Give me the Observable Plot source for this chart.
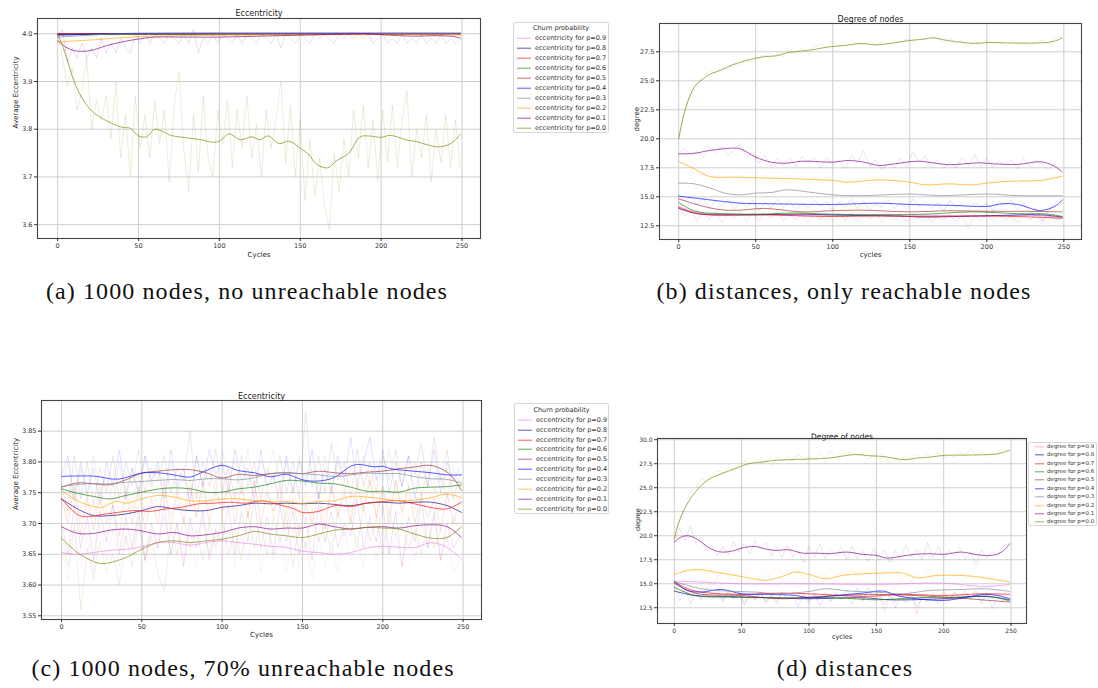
<!DOCTYPE html>
<html><head><meta charset="utf-8">
<script src="https://cdn.jsdelivr.net/npm/d3@7"></script>
<script src="https://cdn.jsdelivr.net/npm/@observablehq/plot@0.6"></script>
<style>
body{margin:0;background:#fff;}
#root{position:relative;width:1098px;height:688px;overflow:hidden;background:#fff;font-family:"DejaVu Sans",sans-serif;}
.panel{position:absolute;}
.legend{position:absolute;border:1px solid #d8d8d8;border-radius:2px;background:#fff;color:#333;box-sizing:border-box;}
.legend .row{position:absolute;left:0;white-space:nowrap;line-height:1;}
.cap{position:absolute;font-family:"Liberation Serif",serif;font-size:24px;color:#111;text-align:center;white-space:nowrap;line-height:26px;letter-spacing:1.1px;}
</style></head><body><div id="root"></div><script>
// ---------- shared categories ----------
const probs = ["0.9","0.8","0.7","0.6","0.5","0.4","0.3","0.2","0.1","0.0"];
const colors = ["violet","darkblue","red","green","brown","blue","lightslategray","orange","purple","olive"];
const xTicks = [0,50,100,150,200,250];
const aYTicks = [3.6,3.7,3.8,3.9,4.0];
const bYTicks = [12.5,15.0,17.5,20.0,22.5,25.0,27.5];
const cYTicks = [3.55,3.60,3.65,3.70,3.75,3.80,3.85];
const dYTicks = [12.5,15.0,17.5,20.0,22.5,25.0,27.5,30.0];

// ---------- (a) smoothed series [cycle, value] ----------
const a_p00 = [[0,4.0],[3,3.975],[6,3.945],[10,3.902],[16,3.860],[22,3.836],[30,3.818],[40,3.804],[45,3.802],[50,3.786],[55,3.784],[60,3.800],[65,3.795],[70,3.787],[80,3.782],[90,3.777],[95,3.773],[100,3.775],[106,3.790],[113,3.778],[120,3.784],[125,3.778],[130,3.786],[137,3.770],[143,3.775],[150,3.760],[155,3.748],[160,3.727],[167,3.719],[172,3.733],[180,3.750],[187,3.784],[192,3.786],[200,3.783],[205,3.787],[210,3.784],[216,3.777],[222,3.774],[230,3.766],[236,3.763],[243,3.770],[249,3.789]];
const a_p01 = [[0,3.986],[5,3.972],[10,3.965],[15,3.963],[22,3.966],[30,3.975],[40,3.983],[50,3.989],[60,3.993],[78,3.993],[100,3.993],[125,3.995],[150,3.997],[175,3.999],[190,4.0],[205,3.997],[220,3.995],[235,3.996],[245,3.994],[249,3.991]];
const a_p02 = [[0,3.983],[25,3.988],[50,3.994],[75,3.996],[100,3.997],[150,3.998],[200,3.999],[249,3.999]];
const a_p03 = [[0,3.993],[15,3.996],[30,3.999],[60,4.0],[249,4.0]];
const a_p04 = [[0,3.997],[20,3.999],[50,4.001],[249,4.001]];
const a_p05 = [[0,3.999],[30,4.0],[249,3.998]];
const a_p06 = [[0,3.998],[249,4.0]];
const a_p07 = [[0,4.0],[249,4.0]];
const a_p08 = [[0,4.0],[249,4.001]];
const a_p09 = [[0,3.999],[249,4.0]];
// (a) raw series, one value every 3 cycles
const aRaw_p00 = [4.00,3.95,3.89,3.93,3.84,3.88,3.95,3.80,3.86,3.82,3.87,3.78,
3.90,3.74,3.83,3.70,3.87,3.76,3.83,3.74,3.86,3.77,3.84,3.69,
3.85,3.92,3.76,3.67,3.83,3.71,3.87,3.74,3.70,3.84,3.77,3.86,
3.72,3.84,3.76,3.87,3.74,3.81,3.70,3.84,3.76,3.82,3.90,3.73,
3.85,3.70,3.82,3.65,3.78,3.66,3.74,3.64,3.59,3.75,3.67,3.78,
3.70,3.84,3.74,3.85,3.72,3.82,3.69,3.84,3.73,3.85,3.72,3.82,
3.88,3.70,3.80,3.74,3.83,3.69,3.80,3.73,3.83,3.72,3.82,3.72];
const aRaw_p01 = [3.99,4.01,3.94,3.97,3.95,3.98,3.95,3.97,3.95,3.99,3.96,3.98,
3.96,3.99,3.97,3.96,4.00,3.98,4.00,3.98,4.00,3.99,3.98,4.00,
3.99,3.98,4.00,3.98,4.01,3.96,3.99,3.98,4.00,3.98,4.00,3.99,
3.98,4.00,3.98,4.00,3.99,3.98,4.00,3.99,3.98,4.00,3.97,4.00,
3.99,3.98,4.00,3.99,3.98,4.00,3.99,4.00,3.99,3.98,4.00,3.99,
4.00,3.99,4.00,3.99,4.00,3.98,3.99,4.00,3.98,3.99,3.98,4.00,
3.98,3.99,3.98,4.00,3.98,3.99,3.98,4.00,3.98,3.99,3.98,3.99];

// ---------- (b) smoothed ----------
const b_p00 = [[0,20.0],[3,21.87],[7,23.6],[11,24.6],[16,25.17],[20,25.55],[27,25.9],[35,26.38],[44,26.75],[50,26.95],[57,27.1],[64,27.16],[70,27.41],[79,27.56],[88,27.7],[96,27.9],[103,27.99],[111,28.1],[118,28.22],[129,28.1],[140,28.28],[150,28.48],[157,28.56],[166,28.7],[172,28.53],[183,28.33],[192,28.22],[200,28.3],[209,28.28],[218,28.25],[227,28.25],[237,28.28],[244,28.42],[249,28.7]];
const b_p01 = [[0,18.7],[10,18.75],[20,18.99],[35,19.2],[40,19.14],[50,18.42],[60,17.99],[70,17.9],[80,18.07],[100,17.99],[110,18.13],[120,17.99],[130,17.7],[140,17.84],[155,18.07],[165,17.93],[175,17.76],[185,17.84],[195,17.93],[205,17.84],[220,17.79],[235,18.02],[243,17.7],[249,17.13]];
const b_p02 = [[0,18.07],[10,17.41],[20,16.75],[35,16.7],[50,16.64],[75,16.55],[100,16.41],[110,16.26],[130,16.47],[150,16.26],[160,16.03],[175,16.12],[190,16.03],[200,16.18],[215,16.35],[235,16.41],[249,16.78]];
const b_p03 = [[0,16.18],[10,16.12],[20,15.78],[30,15.32],[40,15.17],[50,15.32],[60,15.37],[70,15.6],[85,15.4],[100,15.17],[120,15.1],[150,15.24],[170,15.1],[200,15.24],[220,15.1],[249,15.1]];
const b_p04 = [[0,15.06],[20,14.74],[40,14.45],[60,14.4],[100,14.34],[130,14.45],[150,14.34],[180,14.25],[200,14.17],[210,14.4],[220,14.34],[235,13.82],[245,14.25],[249,14.74]];
const b_p05 = [[0,14.83],[10,14.4],[20,14.05],[30,13.85],[40,13.85],[55,14.0],[65,13.9],[80,13.7],[100,13.8],[120,13.85],[150,13.7],[175,13.8],[200,13.75],[225,13.75],[249,13.7]];
const b_p06 = [[0,14.5],[8,13.9],[15,13.65],[30,13.55],[50,13.5],[75,13.6],[100,13.5],[130,13.45],[160,13.5],[190,13.7],[220,13.55],[240,13.5],[249,13.3]];
const b_p07 = [[0,14.1],[8,13.7],[15,13.5],[40,13.45],[60,13.45],[80,13.35],[100,13.3],[130,13.35],[160,13.3],[190,13.35],[220,13.3],[249,13.15]];
const b_p08 = [[0,14.0],[10,13.6],[20,13.45],[50,13.45],[80,13.5],[110,13.4],[140,13.35],[160,13.25],[180,13.3],[210,13.4],[235,13.45],[249,13.25]];
const b_p09 = [[0,14.2],[10,13.7],[25,13.5],[50,13.45],[80,13.4],[120,13.45],[160,13.4],[200,13.35],[230,13.4],[249,13.2]];
// (b) raw, one value every 4 cycles
const bRaw_p00 = [20.0,22.6,24.0,24.9,25.4,25.8,25.7,26.1,26.0, 26.5,26.3,26.9,26.6,27.0,27.2,26.9,27.3,27.0, 27.6,27.3,27.8,27.4,27.9,28.2,27.8,28.3,27.9, 28.4,28.0,28.3,28.1,28.5,28.0,28.4,28.2,28.5, 28.3,28.6,28.4,28.8,28.5,28.9,28.6,28.3,28.7, 28.2,28.5,27.9,28.4,28.1,28.5,28.2,28.4,28.0, 28.5,28.2,28.4,28.1,28.3,28.5,28.2,28.6,28.8];
const bRaw_p01 = [18.7,19.2,18.5,19.0,18.4,19.3,18.8,19.4,18.6, 19.0,19.6,18.4,18.9,17.9,18.6,17.6,18.3,17.7, 18.4,17.6,18.5,17.9,18.4,17.5,18.3,17.8,18.2, 17.4,18.6,17.9,19.0,17.6,18.2,17.3,18.0,17.5, 18.3,17.6,18.9,18.0,18.5,17.6,18.2,17.4,18.0, 17.5,18.4,17.7,18.6,17.6,18.3,17.5,18.1,17.7, 18.2,17.4,18.3,17.6,18.2,17.8,17.3,17.9,17.3];
const bRaw_p02 = [18.1,17.5,17.2,16.9,17.1,16.5,16.9,16.4,17.0, 16.5,16.9,16.3,16.8,16.4,17.0,16.5,16.8,16.2, 16.9,16.5,16.7,16.2,16.8,16.3,16.6,16.1,16.5, 16.0,16.6,16.2,16.7,16.1,16.6,16.3,16.5,16.0, 16.4,15.9,16.3,15.8,16.4,16.0,16.3,15.9,16.4, 15.8,16.2,16.0,16.4,15.9,16.5,16.1,16.4,16.2, 16.6,16.1,16.5,16.2,16.6,16.3,16.7,16.4,16.8];
const bRaw_p04 = [15.2,14.6,15.0,14.3,14.9,14.0,14.7,14.2,14.8, 13.9,14.6,14.1,14.7,13.8,14.5,14.0,14.8,14.1, 14.6,13.9,14.5,14.0,14.7,14.2,14.6,13.8,14.5, 14.1,14.8,14.0,14.6,13.9,14.4,14.1,14.7,14.0, 14.5,13.9,14.8,14.2,14.6,14.0,14.5,13.8,14.7, 14.1,14.4,13.9,14.5,14.2,14.4,13.8,14.6,14.3, 14.7,13.9,14.5,13.6,14.0,12.9,13.8,14.4,14.9];
const bRaw_p07 = [14.1,13.3,13.7,12.9,13.6,13.1,13.7,12.8,13.5, 13.2,13.8,12.9,13.6,13.0,13.5,13.2,13.7,12.9, 13.4,13.0,13.6,12.8,13.5,13.1,13.4,12.9,13.5, 13.0,13.6,12.9,13.4,13.1,13.5,12.8,13.4,13.0, 13.5,12.9,13.4,13.1,13.6,12.8,13.3,13.0,13.5, 12.9,13.4,12.3,13.3,13.0,13.5,12.9,13.4,13.1, 13.3,12.8,13.4,13.0,13.5,12.9,13.3,13.0,13.1];
const bRaw_p09 = [14.2,13.4,13.9,13.1,13.7,13.0,13.8,13.2,13.6, 13.0,13.8,13.3,13.5,12.9,13.7,13.2,13.9,13.1, 13.6,13.0,13.5,13.2,13.8,13.0,13.6,13.3,13.7, 12.9,13.6,13.1,13.8,13.2,13.5,13.0,13.7,13.3, 13.6,12.8,13.5,13.2,13.8,13.1,13.6,13.0,13.5, 12.7,13.7,13.2,13.6,12.9,13.5,13.1,13.4,12.9, 13.6,13.1,13.5,13.0,13.4,12.6,13.5,13.1,13.3];

// ---------- (c) smoothed ----------
const c_p04 = [[0,3.7766],[20,3.777],[35,3.772],[50,3.782],[60,3.7825],[70,3.779],[80,3.7755],[90,3.786],[100,3.7945],[110,3.786],[120,3.7825],[130,3.776],[140,3.78],[150,3.771],[160,3.769],[170,3.775],[180,3.793],[185,3.796],[195,3.792],[200,3.793],[205,3.789],[215,3.786],[230,3.7825],[240,3.779],[249,3.779]];
const c_p05 = [[0,3.759],[10,3.766],[20,3.7645],[30,3.763],[40,3.771],[50,3.782],[60,3.785],[70,3.7875],[80,3.7875],[90,3.7825],[100,3.774],[110,3.78],[120,3.778],[130,3.781],[140,3.7825],[150,3.781],[160,3.785],[170,3.7825],[180,3.781],[190,3.7835],[200,3.785],[210,3.789],[220,3.792],[230,3.7945],[240,3.7835],[245,3.77],[249,3.7536]];
const c_p03 = [[0,3.76],[15,3.7645],[30,3.7645],[40,3.767],[50,3.7684],[60,3.77],[70,3.7716],[80,3.77],[90,3.7727],[100,3.7727],[110,3.771],[120,3.7744],[130,3.781],[140,3.7825],[150,3.781],[160,3.779],[170,3.7765],[180,3.779],[190,3.782],[200,3.781],[210,3.781],[220,3.776],[230,3.7727],[240,3.7716],[249,3.7656]];
const c_p06 = [[0,3.7564],[10,3.749],[20,3.744],[30,3.74],[40,3.7455],[50,3.751],[60,3.756],[70,3.758],[80,3.7564],[90,3.751],[100,3.751],[110,3.7564],[120,3.759],[130,3.7645],[140,3.77],[150,3.769],[160,3.7656],[170,3.7645],[180,3.759],[190,3.7525],[200,3.7525],[210,3.751],[220,3.7575],[230,3.759],[240,3.76],[249,3.7627]];
const c_p02 = [[0,3.7536],[10,3.737],[20,3.7275],[25,3.7264],[30,3.732],[35,3.736],[40,3.733],[50,3.74],[60,3.7455],[70,3.743],[80,3.737],[90,3.737],[100,3.74],[110,3.74],[120,3.737],[130,3.7346],[140,3.7357],[150,3.733],[160,3.736],[170,3.737],[180,3.744],[190,3.743],[200,3.74],[210,3.737],[220,3.738],[230,3.742],[240,3.748],[249,3.742]];
const c_p07 = [[0,3.74],[10,3.7144],[15,3.711],[25,3.7144],[35,3.718],[45,3.721],[55,3.7197],[65,3.7237],[75,3.7264],[85,3.732],[95,3.733],[105,3.7346],[115,3.733],[125,3.737],[135,3.7308],[145,3.7237],[150,3.718],[160,3.7197],[170,3.729],[180,3.7275],[190,3.733],[200,3.7357],[210,3.737],[220,3.7318],[230,3.726],[240,3.7237],[249,3.7346]];
const c_p08 = [[0,3.74],[10,3.7237],[20,3.7128],[30,3.7128],[40,3.7155],[50,3.721],[60,3.7275],[70,3.7237],[80,3.721],[90,3.721],[100,3.7264],[110,3.729],[120,3.733],[130,3.732],[140,3.733],[150,3.732],[160,3.733],[170,3.731],[180,3.729],[190,3.733],[200,3.7346],[210,3.733],[220,3.7346],[230,3.7346],[240,3.729],[249,3.718]];
const c_p01 = [[0,3.6948],[10,3.684],[20,3.684],[30,3.689],[40,3.691],[50,3.688],[60,3.683],[70,3.6855],[80,3.68],[90,3.6817],[100,3.6855],[110,3.6926],[120,3.6948],[130,3.691],[140,3.6926],[150,3.6926],[160,3.699],[170,3.6948],[180,3.691],[190,3.6937],[200,3.6948],[210,3.6926],[220,3.6964],[230,3.698],[240,3.6948],[249,3.6773]];
const c_p00 = [[0,3.6762],[10,3.6528],[20,3.638],[25,3.6348],[30,3.6364],[40,3.6446],[50,3.6582],[60,3.6691],[70,3.6718],[80,3.6691],[90,3.6718],[100,3.6746],[110,3.68],[120,3.6871],[130,3.6828],[140,3.68],[150,3.6773],[160,3.6828],[170,3.6893],[180,3.691],[190,3.6937],[200,3.6926],[210,3.691],[220,3.6828],[230,3.6762],[240,3.6773],[249,3.6948]];
const c_p09 = [[0,3.6528],[10,3.65],[20,3.6528],[30,3.6566],[40,3.6582],[50,3.662],[60,3.669],[70,3.669],[80,3.6648],[90,3.669],[100,3.6718],[110,3.669],[120,3.6664],[130,3.663],[140,3.661],[150,3.655],[160,3.6528],[170,3.65],[180,3.6528],[190,3.66],[200,3.663],[210,3.6615],[220,3.661],[230,3.669],[240,3.661],[249,3.642]];
// (c) raw, one value every 4 cycles
const cRaw_p04 = [3.78,3.81,3.74,3.80,3.75,3.79,3.73,3.80,3.76, 3.82,3.74,3.79,3.75,3.81,3.77,3.80,3.74,3.82, 3.76,3.79,3.73,3.81,3.76,3.82,3.78,3.80,3.75, 3.82,3.77,3.79,3.74,3.82,3.76,3.78,3.73,3.81, 3.75,3.80,3.76,3.82,3.74,3.79,3.75,3.81,3.77, 3.84,3.76,3.80,3.84,3.77,3.82,3.75,3.80,3.76, 3.81,3.74,3.80,3.76,3.82,3.75,3.80,3.77,3.79];
const cRaw_p05 = [3.76,3.72,3.81,3.74,3.80,3.73,3.79,3.75,3.81, 3.74,3.80,3.76,3.82,3.75,3.79,3.77,3.81,3.75, 3.79,3.77,3.85,3.74,3.80,3.76,3.82,3.75,3.79, 3.74,3.81,3.76,3.80,3.74,3.79,3.77,3.81,3.75, 3.80,3.74,3.88,3.76,3.81,3.75,3.83,3.77,3.80, 3.74,3.82,3.76,3.80,3.75,3.81,3.77,3.82,3.76, 3.81,3.78,3.83,3.76,3.84,3.77,3.82,3.74,3.78];
const cRaw_p03 = [3.76,3.80,3.73,3.79,3.74,3.81,3.75,3.78,3.73, 3.80,3.75,3.79,3.74,3.81,3.76,3.79,3.73,3.80, 3.75,3.78,3.74,3.81,3.76,3.79,3.75,3.82,3.77, 3.80,3.75,3.82,3.76,3.80,3.78,3.82,3.76,3.80, 3.75,3.81,3.77,3.79,3.74,3.81,3.76,3.80,3.75, 3.79,3.77,3.81,3.76,3.80,3.77,3.82,3.75,3.79, 3.76,3.80,3.74,3.79,3.75,3.78,3.74,3.79,3.76];
const cRaw_p02 = [3.75,3.71,3.76,3.70,3.75,3.71,3.76,3.72,3.77, 3.71,3.76,3.72,3.78,3.71,3.77,3.72,3.76,3.71, 3.76,3.72,3.77,3.71,3.76,3.72,3.77,3.71,3.76, 3.72,3.77,3.71,3.76,3.72,3.76,3.71,3.77,3.72, 3.76,3.71,3.75,3.72,3.77,3.71,3.76,3.72,3.77, 3.71,3.77,3.73,3.78,3.71,3.76,3.72,3.77,3.71, 3.76,3.72,3.78,3.73,3.77,3.72,3.79,3.73,3.76];
const cRaw_p07 = [3.74,3.70,3.76,3.68,3.74,3.69,3.75,3.70,3.73, 3.68,3.75,3.70,3.76,3.69,3.74,3.70,3.77,3.69, 3.75,3.70,3.76,3.71,3.77,3.70,3.75,3.72,3.77, 3.70,3.76,3.71,3.77,3.70,3.75,3.72,3.76,3.69, 3.74,3.68,3.73,3.70,3.75,3.69,3.76,3.71,3.75, 3.70,3.76,3.72,3.77,3.71,3.76,3.70,3.77,3.72, 3.76,3.70,3.75,3.71,3.74,3.69,3.75,3.70,3.74];
const cRaw_p01 = [3.70,3.65,3.73,3.66,3.71,3.64,3.72,3.67,3.73, 3.65,3.71,3.66,3.72,3.64,3.70,3.66,3.73,3.65, 3.70,3.63,3.71,3.66,3.72,3.64,3.69,3.67,3.73, 3.65,3.72,3.67,3.74,3.66,3.71,3.65,3.73,3.67, 3.72,3.65,3.71,3.64,3.73,3.67,3.72,3.66,3.70, 3.68,3.74,3.66,3.71,3.67,3.73,3.65,3.72,3.63, 3.71,3.67,3.74,3.66,3.72,3.64,3.70,3.66,3.68];
const cRaw_p09 = [3.66,3.61,3.69,3.63,3.68,3.62,3.70,3.64,3.69, 3.63,3.68,3.65,3.71,3.64,3.69,3.66,3.71,3.65, 3.70,3.64,3.69,3.63,3.71,3.65,3.69,3.64,3.70, 3.63,3.68,3.64,3.70,3.62,3.69,3.64,3.68,3.62, 3.69,3.63,3.67,3.61,3.68,3.63,3.67,3.62,3.69, 3.64,3.68,3.63,3.70,3.64,3.69,3.65,3.68,3.63, 3.69,3.64,3.70,3.66,3.71,3.64,3.68,3.62,3.64];
const cRaw_p00 = [3.68,3.63,3.70,3.56,3.66,3.61,3.67,3.62,3.65, 3.60,3.68,3.63,3.70,3.64,3.68,3.62,3.59,3.69, 3.65,3.71,3.66,3.69,3.64,3.70,3.66,3.71,3.65, 3.69,3.64,3.72,3.66,3.70,3.65,3.71,3.67,3.72, 3.63,3.70,3.66,3.72,3.67,3.70,3.65,3.72,3.68, 3.71,3.66,3.73,3.67,3.71,3.65,3.72,3.68,3.70, 3.66,3.69,3.65,3.70,3.66,3.69,3.67,3.71,3.69];

// ---------- (d) smoothed ----------
const d_p00 = [[0,19.69],[3,21.25],[7,22.64],[12,23.85],[17,24.79],[25,25.83],[35,26.46],[45,26.98],[55,27.5],[65,27.67],[75,27.85],[90,27.95],[100,27.99],[115,28.09],[125,28.3],[135,28.47],[145,28.33],[155,28.26],[165,28.02],[172,27.92],[180,28.09],[190,28.19],[200,28.37],[215,28.4],[230,28.44],[240,28.54],[249,28.89]];
const d_p01 = [[0,19.34],[5,19.86],[10,20.0],[15,19.79],[20,19.34],[27,18.65],[35,18.3],[45,18.47],[50,18.72],[60,18.89],[67,18.65],[75,18.47],[85,18.54],[95,18.19],[105,18.19],[115,18.13],[128,18.3],[140,18.06],[150,17.95],[158,17.67],[168,17.85],[178,18.06],[190,18.13],[200,18.06],[213,18.3],[225,18.02],[235,17.95],[243,18.3],[249,19.17]];
const d_p02 = [[0,15.94],[10,16.39],[20,16.46],[30,16.22],[45,15.87],[55,15.62],[68,15.35],[80,15.76],[90,16.22],[100,15.97],[112,15.52],[125,15.87],[140,16.04],[155,16.11],[170,16.11],[180,15.62],[195,15.87],[210,15.87],[220,15.8],[235,15.52],[249,15.17]];
const d_p03 = [[0,15.24],[20,14.48],[40,14.24],[60,14.13],[80,13.96],[100,14.2],[112,14.48],[130,14.24],[150,14.13],[170,13.96],[190,14.31],[210,14.38],[230,14.48],[249,14.2]];
const d_p04 = [[0,15.17],[10,14.3],[20,14.13],[35,14.41],[50,13.96],[70,13.89],[90,13.78],[100,13.54],[120,13.78],[140,14.03],[155,14.24],[165,13.78],[180,13.44],[200,13.26],[215,13.54],[230,13.89],[240,13.78],[249,13.44]];
const d_p05 = [[0,15.07],[15,14.03],[50,13.78],[80,13.44],[100,13.61],[150,13.89],[200,13.61],[249,13.09]];
const d_p06 = [[0,14.65],[15,13.78],[40,13.6],[80,13.54],[120,13.54],[150,13.33],[180,13.54],[210,13.61],[235,13.68],[249,13.2]];
const d_p07 = [[0,15.24],[10,14.48],[20,14.13],[50,13.89],[80,14.03],[110,13.89],[140,13.68],[170,13.89],[200,13.78],[230,13.96],[249,13.89]];
const d_p08 = [[0,14.24],[15,13.78],[40,13.68],[70,13.54],[100,13.44],[140,13.54],[160,13.33],[200,13.44],[230,13.68],[249,13.33]];
const d_p09 = [[0,15.28],[20,15.17],[50,15.0],[100,15.0],[150,14.93],[200,15.06],[230,14.72],[249,14.93]];
// (d) raw, one value every 4 cycles
const dRaw_p01 = [19.3,20.8,19.5,21.0,19.2,19.8,18.4,19.0,17.9, 18.9,18.0,19.4,18.3,19.2,18.1,19.5,18.6,19.3, 17.9,18.8,17.7,19.0,17.8,18.5,17.2,18.9,17.8, 19.2,17.6,18.6,17.9,18.8,17.5,18.9,17.6,18.4, 17.3,18.7,17.4,18.5,17.2,18.4,17.6,19.0,17.8, 18.6,17.5,19.3,17.7,18.9,17.6,18.5,17.9,18.8, 17.5,18.3,17.0,18.5,17.6,18.4,17.8,18.9,19.2];
const dRaw_p00 = [19.7,21.5,23.0,24.6,25.0,26.0,25.6,26.3,26.8, 26.5,27.1,26.8,27.4,27.8,27.4,28.0,27.6,27.9, 27.3,28.2,27.7,28.3,27.8,28.5,27.9,28.2,28.0, 28.6,28.1,28.9,28.2,28.4,28.6,28.8,28.3,28.5, 28.0,28.4,27.9,28.3,27.5,28.1,27.7,28.4,28.0, 28.5,28.1,28.6,28.2,28.7,28.0,28.4,28.2,28.8, 28.3,29.1,28.4,28.7,28.2,28.6,28.4,29.0,28.9];
const dRaw_p02 = [15.9,16.8,16.2,17.0,16.4,16.9,16.0,16.6,15.6, 16.3,15.4,16.1,15.8,16.4,15.2,15.9,15.5,16.2, 15.9,16.8,16.0,16.5,15.7,16.3,15.4,16.0,15.3, 16.2,15.6,16.5,15.8,16.4,15.9,16.6,15.8,16.5, 16.0,16.7,15.7,16.4,16.0,16.6,15.4,16.0,15.3, 16.1,15.5,16.3,15.6,16.2,15.8,16.4,15.7,16.2, 15.5,16.0,15.3,15.9,15.4,15.8,15.1,15.6,15.2];
const dRaw_p04 = [14.8,13.2,14.5,12.9,14.0,13.4,14.6,13.8,14.4, 13.1,14.3,13.5,14.0,12.8,13.9,13.3,14.2,13.0, 13.8,12.9,14.1,13.4,13.7,12.6,13.9,13.2,14.0, 12.7,13.6,13.1,14.0,13.4,14.4,13.6,14.5,13.2, 14.6,13.5,14.3,12.8,13.9,12.5,13.7,13.0,13.8, 12.6,13.5,13.1,13.8,12.9,13.6,13.2,14.1,13.4, 14.0,13.6,14.3,12.9,14.0,12.4,13.8,13.2,13.6];
const dRaw_p09 = [15.3,14.6,15.5,14.8,15.7,14.9,15.4,14.7,15.6, 14.8,15.3,14.6,15.5,14.9,15.2,14.5,15.4,14.8, 15.6,14.7,15.3,14.9,15.5,14.6,15.2,14.8,15.4, 14.7,15.3,14.6,15.5,14.8,15.2,14.7,15.4,14.6, 15.3,14.9,15.5,14.7,15.2,14.6,15.4,14.8,15.3, 14.5,15.2,14.7,15.4,14.8,15.3,14.6,15.1,14.5, 15.2,14.7,15.0,14.4,15.1,14.6,14.9,14.5,14.8];
const dRaw_p07 = [15.2,14.0,14.6,13.5,14.2,13.3,14.0,13.2,13.9, 13.3,14.1,13.4,14.2,13.0,13.8,13.3,14.0,13.1, 13.9,13.2,14.0,13.4,14.2,13.3,13.8,12.9,13.9, 13.4,14.1,13.2,14.0,13.3,13.8,12.9,14.0,13.4, 14.1,13.2,13.8,12.0,13.9,13.1,14.0,13.3,14.2, 11.8,13.9,13.2,14.0,13.4,14.2,13.3,14.1,13.5, 14.3,13.4,14.1,13.2,13.9,13.4,14.2,13.5,13.9];

// ---------- helpers ----------
const pairsToRows = (pairs, p) => pairs.map(([x, y]) => ({x, y, p}));
const rawToRows = (vals, step, p) => vals.map((y, i) => ({x: i * step, y, p}));

function panel(cfg) {
  const marks = [
    Plot.gridX({ticks: xTicks, stroke: "#cfcfcf", strokeOpacity: 1, strokeWidth: 1}),
    Plot.gridY({ticks: cfg.yTicks, stroke: "#cfcfcf", strokeOpacity: 1, strokeWidth: 1})
  ];
  for (const p of probs) {
    const r = cfg.raw.find(e => e[0] === p);
    if (r) marks.push(Plot.line(rawToRows(r[1], cfg.rawStep, p), {x: "x", y: "y", stroke: "p", strokeWidth: 0.8, strokeOpacity: cfg.rawOpacity, clip: true}));
    const s = cfg.smooth.find(e => e[0] === p);
    if (s) marks.push(Plot.line(pairsToRows(s[1], p), {x: "x", y: "y", stroke: "p", strokeWidth: 1, strokeOpacity: 0.65, curve: "catmull-rom", clip: true}));
  }
  marks.push(
    Plot.frame({stroke: "#444", strokeWidth: 1.1}),
    Plot.axisX({ticks: xTicks, tickSize: 3, tickPadding: 2, label: null, fontSize: cfg.fs}),
    Plot.axisY({ticks: cfg.yTicks, tickFormat: d3.format(cfg.yFmt), tickSize: 3, tickPadding: 2, label: null, fontSize: cfg.fs}),
    Plot.text([cfg.title], {frameAnchor: "top", dy: cfg.titleDy, fontSize: cfg.tfs, fill: "#222"}),
    Plot.text([cfg.xLabel], {frameAnchor: "bottom", dy: cfg.xLabelDy, fontSize: cfg.fs + 0.5, fill: "#222"}),
    Plot.text([cfg.yLabel], {frameAnchor: "left", dx: cfg.yLabelDx, rotate: -90, fontSize: cfg.fs + 0.5, fill: "#222"})
  );
  const svg = Plot.plot({
    width: cfg.w, height: cfg.h,
    marginLeft: cfg.ml, marginRight: cfg.mr, marginTop: cfg.mt, marginBottom: cfg.mb,
    x: {domain: [-12.45, 261.45]},
    y: {domain: cfg.yDomain},
    color: {domain: probs, range: colors},
    style: {fontFamily: "DejaVu Sans", fontSize: cfg.fs + "px", color: "#333", background: "transparent", overflow: "visible"},
    marks
  });
  svg.classList.add("panel");
  svg.style.left = cfg.left + "px";
  svg.style.top = cfg.top + "px";
  return svg;
}

function legend(cfg) {
  const box = document.createElement("div");
  box.className = "legend";
  Object.assign(box.style, {left: cfg.left + "px", top: cfg.top + "px", width: cfg.w + "px", height: cfg.h + "px", fontSize: cfg.fs + "px"});
  if (cfg.title) {
    const t = document.createElement("div");
    t.className = "row";
    t.textContent = cfg.title;
    Object.assign(t.style, {width: "100%", textAlign: "center", top: (cfg.titleY - cfg.fs / 2) + "px"});
    box.appendChild(t);
  }
  probs.forEach((p, i) => {
    const y = cfg.rowY + i * cfg.rowGap;
    const row = document.createElement("div");
    row.className = "row";
    row.style.top = (y - cfg.fs / 2) + "px";
    row.style.height = cfg.fs + "px";
    const sw = document.createElementNS("http://www.w3.org/2000/svg", "svg");
    sw.setAttribute("width", cfg.swW); sw.setAttribute("height", cfg.fs);
    sw.style.position = "absolute"; sw.style.left = cfg.swX + "px"; sw.style.top = "0px";
    const ln = document.createElementNS("http://www.w3.org/2000/svg", "line");
    ln.setAttribute("x1", 0); ln.setAttribute("x2", cfg.swW);
    ln.setAttribute("y1", cfg.fs / 2); ln.setAttribute("y2", cfg.fs / 2);
    ln.setAttribute("stroke", colors[i]); ln.setAttribute("stroke-opacity", 0.5); ln.setAttribute("stroke-width", 1.3);
    sw.appendChild(ln);
    row.appendChild(sw);
    const tx = document.createElement("span");
    tx.textContent = cfg.prefix + p;
    Object.assign(tx.style, {position: "absolute", left: cfg.textX + "px", top: "0px"});
    row.appendChild(tx);
    box.appendChild(row);
  });
  return box;
}

function caption(text, cx, cy) {
  const d = document.createElement("div");
  d.className = "cap";
  d.textContent = text;
  Object.assign(d.style, {left: (cx - 300) + "px", width: "600px", top: (cy - 13) + "px"});
  return d;
}

const root = document.getElementById("root");
const S = (arr) => probs.map((p, i) => [p, arr[i]]);

root.appendChild(panel({
  left: 0, top: 0, w: 500, h: 270, ml: 37, mr: 20, mt: 18, mb: 32,
  yDomain: [3.571, 4.032], yTicks: aYTicks, yFmt: ".1f", fs: 6.5, tfs: 8,
  title: "Eccentricity", titleDy: -8, xLabel: "Cycles", xLabelDy: 18, yLabel: "Average Eccentricity", yLabelDx: -22,
  smooth: S([a_p09, a_p08, a_p07, a_p06, a_p05, a_p04, a_p03, a_p02, a_p01, a_p00]),
  raw: [["0.1", aRaw_p01], ["0.0", aRaw_p00]], rawStep: 3, rawOpacity: 0.18
}));
root.appendChild(panel({
  left: 610, top: 0, w: 488, h: 270, ml: 49, mr: 17, mt: 23, mb: 31,
  yDomain: [11.32, 29.94], yTicks: bYTicks, yFmt: ".1f", fs: 6.5, tfs: 8,
  title: "Degree of nodes", titleDy: -7, xLabel: "cycles", xLabelDy: 17, yLabel: "degree", yLabelDx: -23,
  smooth: S([b_p09, b_p08, b_p07, b_p06, b_p05, b_p04, b_p03, b_p02, b_p01, b_p00]),
  raw: [["0.9", bRaw_p09], ["0.7", bRaw_p07], ["0.4", bRaw_p04], ["0.2", bRaw_p02], ["0.1", bRaw_p01], ["0.0", bRaw_p00]], rawStep: 4, rawOpacity: 0.15
}));
root.appendChild(panel({
  left: 0, top: 380, w: 500, h: 270, ml: 41, mr: 19, mt: 20, mb: 31,
  yDomain: [3.544, 3.8999], yTicks: cYTicks, yFmt: ".2f", fs: 6.5, tfs: 8,
  title: "Eccentricity", titleDy: -7, xLabel: "Cycles", xLabelDy: 17, yLabel: "Average Eccentricity", yLabelDx: -26,
  smooth: S([c_p09, c_p08, c_p07, c_p06, c_p05, c_p04, c_p03, c_p02, c_p01, c_p00]),
  raw: [["0.9", cRaw_p09], ["0.7", cRaw_p07], ["0.5", cRaw_p05], ["0.4", cRaw_p04], ["0.3", cRaw_p03], ["0.2", cRaw_p02], ["0.1", cRaw_p01], ["0.0", cRaw_p00]], rawStep: 4, rawOpacity: 0.15
}));
root.appendChild(panel({
  left: 610, top: 410, w: 420, h: 240, ml: 47, mr: 4, mt: 28, mb: 27,
  yDomain: [10.86, 30.13], yTicks: dYTicks, yFmt: ".1f", fs: 6, tfs: 7.5,
  title: "Degree of nodes", titleDy: -5, xLabel: "cycles", xLabelDy: 15, yLabel: "degree", yLabelDx: -20,
  smooth: S([d_p09, d_p08, d_p07, d_p06, d_p05, d_p04, d_p03, d_p02, d_p01, d_p00]),
  raw: [["0.9", dRaw_p09], ["0.7", dRaw_p07], ["0.4", dRaw_p04], ["0.2", dRaw_p02], ["0.1", dRaw_p01], ["0.0", dRaw_p00]], rawStep: 4, rawOpacity: 0.15
}));

root.appendChild(legend({left: 513, top: 22, w: 96, h: 111, fs: 6.5, title: "Churn probability", titleY: 5.5, rowY: 15.5, rowGap: 10, swX: 3, swW: 14, textX: 21, prefix: "eccentricity for p="}));
root.appendChild(legend({left: 514, top: 403, w: 95, h: 111, fs: 6.5, title: "Churn probability", titleY: 6, rowY: 16, rowGap: 9.9, swX: 3, swW: 14, textX: 21, prefix: "eccentricity for p="}));
root.appendChild(legend({left: 1028, top: 442, w: 69, h: 84, fs: 5.5, title: null, rowY: 3.5, rowGap: 8.4, swX: 6, swW: 9, textX: 18, prefix: "degree for p="}));

root.appendChild(caption("(a) 1000 nodes, no unreachable nodes", 247, 291));
root.appendChild(caption("(b) distances, only reachable nodes", 844, 291));
root.appendChild(caption("(c) 1000 nodes, 70% unreachable nodes", 243, 668));
root.appendChild(caption("(d) distances", 845, 668));
</script></body></html>
